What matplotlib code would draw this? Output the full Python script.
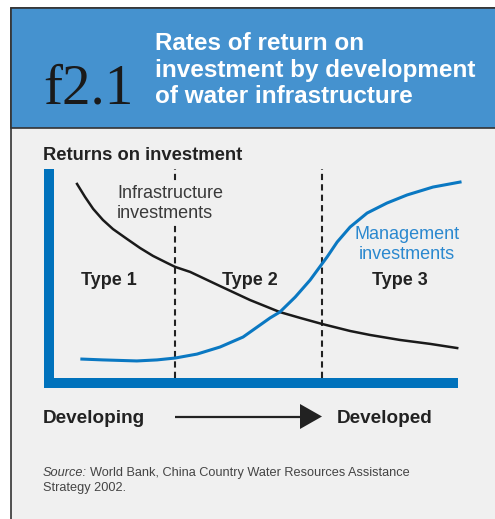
import matplotlib
matplotlib.use('Agg')
import matplotlib.pyplot as plt
from matplotlib.patches import Rectangle, Polygon

plt.rcParams['font.family'] = ['Liberation Sans', 'DejaVu Sans']

# development stage (0-10) and return (0-10)
infra_x = [0.57, 0.77, 0.97, 1.21, 1.46, 1.81, 2.13, 2.45, 2.80, 3.00, 3.37,
           4.11, 4.85, 5.59, 6.09, 6.63, 7.33, 7.82, 8.56, 9.31, 9.98]
infra_y = [9.33, 8.70, 8.13, 7.60, 7.16, 6.68, 6.25, 5.87, 5.53, 5.34, 5.10,
           4.42, 3.75, 3.17, 2.89, 2.60, 2.26, 2.07, 1.83, 1.64, 1.44]

mgmt_x = [0.69, 1.21, 2.05, 2.55, 3.00, 3.54, 4.11, 4.68, 5.35, 5.59, 5.97,
          6.34, 6.54, 6.76, 7.01, 7.33, 7.75, 8.24, 8.74, 9.38, 10.05]
mgmt_y = [0.91, 0.87, 0.82, 0.87, 0.96, 1.15, 1.49, 1.97, 2.89, 3.17, 3.89,
          4.71, 5.24, 5.82, 6.54, 7.26, 7.93, 8.41, 8.80, 9.18, 9.42]

stage_bounds = [3.0, 6.63]
stage_names = ['Type 1', 'Type 2', 'Type 3']
stage_centers = [1.35, 4.85, 8.55]

title_lines = ['Rates of return on', 'investment by development', 'of water infrastructure']

HEADER = '#4592cf'
AXBLUE = '#0072bc'
LINEBLUE = '#0a78c2'
BG = '#f0f0f0'
DARK = '#222222'

W, H = 495, 519
fig = plt.figure(figsize=(W / 100, H / 100), dpi=100)
fig.patch.set_facecolor('white')

# pixel-space layer for the panel, header and labels
bg = fig.add_axes([0, 0, 1, 1])
bg.set_xlim(0, W)
bg.set_ylim(H, 0)
bg.axis('off')

bg.add_patch(Rectangle((11, 8), 500, 520, facecolor=BG, edgecolor='#333333', lw=1.2))
bg.add_patch(Rectangle((11, 8), 500, 120, facecolor=HEADER, edgecolor='#333333', lw=1.2))

bg.text(43, 103, 'f2.1', family='Liberation Serif', fontsize=41, color='#1a1a1a',
        va='baseline', ha='left')
for i, line in enumerate(title_lines):
    bg.text(155, 50 + i * 26.5, line, fontsize=17.5, fontweight='bold', color='white',
            va='baseline', ha='left')

bg.text(43, 160, 'Returns on investment', fontsize=13.2, fontweight='bold', color=DARK,
        va='baseline', ha='left')

# blue axis bars
bg.add_patch(Rectangle((44, 169), 10, 219, facecolor=AXBLUE, edgecolor='none'))
bg.add_patch(Rectangle((44, 378), 414, 10, facecolor=AXBLUE, edgecolor='none'))

# development arrow
bg.plot([175, 302], [417, 417], color=DARK, lw=1.6, solid_capstyle='butt')
bg.add_patch(Polygon([(300, 404), (322, 416.5), (300, 429)], closed=True,
                     facecolor=DARK, edgecolor='none'))
bg.text(43, 423, 'Developing', fontsize=13.6, fontweight='bold', color=DARK,
        va='baseline', ha='left')
bg.text(337, 423, 'Developed', fontsize=13.6, fontweight='bold', color=DARK,
        va='baseline', ha='left')

bg.text(43, 476, 'Source:', fontsize=9.2, style='italic', color='#444444',
        va='baseline', ha='left')
bg.text(90, 476, 'World Bank, China Country Water Resources Assistance', fontsize=9.2,
        color='#444444', va='baseline', ha='left')
bg.text(43, 491, 'Strategy 2002.', fontsize=9.2, color='#444444', va='baseline', ha='left')

# chart area
ax = fig.add_axes([54 / W, (H - 378) / H, 404 / W, 208 / H])
ax.set_xlim(0, 10)
ax.set_ylim(0, 10)
ax.patch.set_alpha(0)
ax.axis('off')

for xb in stage_bounds:
    ax.plot([xb, xb], [0, 10.05], color=DARK, lw=1.5, dashes=(3, 2), clip_on=False)

ax.plot(infra_x, infra_y, color='#1a1a1a', lw=1.8, clip_on=False, zorder=3,
        solid_joinstyle='round')
ax.plot(mgmt_x, mgmt_y, color=LINEBLUE, lw=2.2, clip_on=False, zorder=3,
        solid_joinstyle='round')

for name, cx in zip(stage_names, stage_centers):
    ax.text(cx, 4.45, name, fontsize=13, fontweight='bold', color=DARK,
            ha='center', va='baseline', zorder=4)

ax.text(117, 218, 'Infrastructure\ninvestments', transform=bg.transData, fontsize=13,
        color='#3a3a3a', ha='left', va='baseline', linespacing=1.2, zorder=4,
        bbox=dict(facecolor=BG, edgecolor='none', pad=2))
ax.text(407, 259, 'Management\ninvestments', transform=bg.transData, fontsize=13,
        color='#2a88cf', ha='center', va='baseline', linespacing=1.2, zorder=4)

fig.savefig('out.png', dpi=100)
